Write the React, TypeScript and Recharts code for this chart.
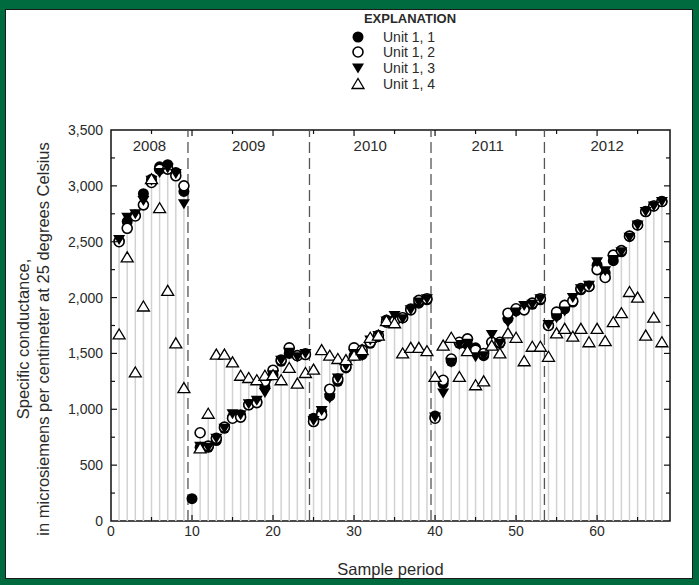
import React from "react";
import {
  ComposedChart,
  Scatter,
  XAxis,
  YAxis,
  ReferenceLine,
  ReferenceArea,
  Legend,
} from "recharts";

// sample periods 1..68
const samplePeriods = [
  1, 2, 3, 4, 5, 6, 7, 8, 9, 10, 11, 12, 13, 14, 15, 16, 17, 18, 19, 20,
  21, 22, 23, 24, 25, 26, 27, 28, 29, 30, 31, 32, 33, 34, 35, 36, 37, 38, 39, 40,
  41, 42, 43, 44, 45, 46, 47, 48, 49, 50, 51, 52, 53, 54, 55, 56, 57, 58, 59, 60,
  61, 62, 63, 64, 65, 66, 67, 68,
];

// specific conductance, microsiemens per cm at 25 C
const unit11 = [
  2510, 2680, 2740, 2930, 3060, 3170, 3190, 3120, 2950, 200,
  660, 660, 720, 830, 930, 950, 1040, 1070, 1200, 1310,
  1430, 1500, 1480, 1500, 920, 980, 1120, 1250, 1370, 1480,
  1490, 1590, 1650, 1800, 1800, 1820, 1900, 1950, 1980, 940,
  1230, 1430, 1590, 1580, 1550, 1480, 1600, 1590, 1810, 1880,
  1900, 1940, 1980, 1750, 1840, 1900, 1960, 2070, 2100, 2290,
  2220, 2330, 2410, 2550, 2650, 2770, 2820, 2860,
];
const unit12 = [
  2500, 2620, 2730, 2830, 3030, 3150, 3150, 3090, 3000, null,
  790, 670, 740, 840, 920, 930, 1040, 1060, 1250, 1350,
  1440, 1550, 1480, 1490, 890, 950, 1180, 1270, 1380, 1550,
  1530, 1600, 1660, 1780, 1790, 1820, 1890, 1975, 1990, 920,
  1260, 1450, 1600, 1630, 1530, 1500, 1600, 1600, 1860, 1900,
  1890, 1950, 1990, 1750, 1870, 1930, 1970, 2080, 2100, 2250,
  2180, 2380, 2420, 2550, 2650, 2770, 2820, 2860,
];
const unit13 = [
  2520, 2720, 2750, 2870, 3050, 3120, 3160, 3110, 2840, null,
  670, 660, 740, 830, 960, 950, 1050, 1080, 1150, 1310,
  1440, 1510, 1470, 1500, 900, 990, 1100, 1280, 1390, 1500,
  1480, 1620, 1660, 1790, 1840, 1810, 1890, 1960, 1990, 930,
  1145, 1420, 1580, 1590, 1470, 1480, 1670, 1590, 1780, 1870,
  1930, 1940, 1990, 1760, 1820, 1880, 2000, 2080, 2110, 2320,
  2240, 2340, 2410, 2540, 2650, 2770, 2820, 2860,
];
const unit14 = [
  1670, 2360, 1330, 1920, 3060, 2800, 2060, 1590, 1190, null,
  650, 960, 1490, 1490, 1420, 1300, 1280, 1260, 1300, 1305,
  1260, 1370, 1230, 1325, 1355, 1530, 1480, 1450, 1440, 1480,
  1530, 1640, 1660, 1790, 1770, 1500, 1550, 1550, 1520, 1290,
  1570, 1640, 1290, 1520, 1215, 1250, 1570, 1500, 1680, 1640,
  1430, 1560, 1560, 1470, 1680, 1720, 1650, 1720, 1600, 1720,
  1610, 1780, 1860, 2050, 2000, 1660, 1820, 1600,
];

const yearLabels = ["2008", "2009", "2010", "2011", "2012"];
const yearCenters = [4.75, 17, 32, 46.5, 61.25];
const yearBreaks = [9.5, 24.5, 39.5, 53.5];
const yearLabelLevel = 3365;

const xTicks = [0, 5, 10, 15, 20, 25, 30, 35, 40, 45, 50, 55, 60, 65];
const yTicks = [
  0, 250, 500, 750, 1000, 1250, 1500, 1750, 2000, 2250, 2500, 2750, 3000, 3250, 3500,
];

const FONT = "'Liberation Sans', Arial, sans-serif";
const TEXT = "#2a2a2a";
const PLOT = { left: 111, top: 130, right: 670, bottom: 521 };

const toPoints = (values) =>
  samplePeriods
    .map((x, i) => ({ x, y: values[i] }))
    .filter((p) => p.y != null);

const stemData = samplePeriods.map((x, i) => ({
  x,
  y: Math.max(
    ...[unit11[i], unit12[i], unit13[i], unit14[i]].filter((v) => v != null)
  ),
}));

const yearData = yearCenters.map((x, i) => ({
  x,
  y: yearLabelLevel,
  label: yearLabels[i],
}));

// markers
function marker(name, cx, cy) {
  if (name === "Unit 1, 1")
    return <circle cx={cx} cy={cy} r={5.5} fill="#000" />;
  if (name === "Unit 1, 2")
    return (
      <circle cx={cx} cy={cy} r={5} fill="#fff" stroke="#000" strokeWidth={1.6} />
    );
  if (name === "Unit 1, 3")
    return (
      <path
        d={`M${cx - 6},${cy - 4.5} L${cx + 6},${cy - 4.5} L${cx},${cy + 5.5} Z`}
        fill="#000"
      />
    );
  return (
    <path
      d={`M${cx - 6},${cy + 4.5} L${cx + 6},${cy + 4.5} L${cx},${cy - 5.5} Z`}
      fill="#fff"
      stroke="#000"
      strokeWidth={1.3}
    />
  );
}

const shapeFor = (name) => (p) => marker(name, p.cx, p.cy);

const StemShape = (p) => (
  <line
    x1={p.cx}
    x2={p.cx}
    y1={p.cy}
    y2={PLOT.bottom}
    stroke="#d2d2d2"
    strokeWidth={1.5}
  />
);

const YearShape = (p) => (
  <text
    x={p.cx}
    y={p.cy}
    textAnchor="middle"
    dominantBaseline="central"
    fontFamily={FONT}
    fontSize={15}
    fill={TEXT}
  >
    {p.payload.label}
  </text>
);

const XTick = (props) => {
  const { x, y, payload } = props;
  const v = payload.value;
  const major = v % 10 === 0;
  const len = major ? 6 : 4;
  return (
    <g>
      {v > 0 && (
        <>
          <line x1={x} x2={x} y1={PLOT.bottom} y2={PLOT.bottom - len} stroke="#111" strokeWidth={1.2} />
          <line x1={x} x2={x} y1={PLOT.top} y2={PLOT.top + len} stroke="#111" strokeWidth={1.2} />
        </>
      )}
      {major && (
        <text x={x} y={y} dy="0.71em" textAnchor="middle" fontFamily={FONT} fontSize={14} fill={TEXT}>
          {v}
        </text>
      )}
    </g>
  );
};

const YTick = (props) => {
  const { x, y, payload } = props;
  const v = payload.value;
  const major = v % 500 === 0;
  const len = major ? 6 : 4;
  return (
    <g>
      {v > 0 && v < 3500 && (
        <>
          <line x1={PLOT.left} x2={PLOT.left + len} y1={y} y2={y} stroke="#111" strokeWidth={1.2} />
          <line x1={PLOT.right} x2={PLOT.right - len} y1={y} y2={y} stroke="#111" strokeWidth={1.2} />
        </>
      )}
      {major && (
        <text x={x} y={y} dy="0.355em" textAnchor="end" fontFamily={FONT} fontSize={14} fill={TEXT}>
          {v.toLocaleString("en-US")}
        </text>
      )}
    </g>
  );
};

const YLabel = () => (
  <g fontFamily={FONT} fontSize={16.5} fill={TEXT}>
    <text x={23} y={339} textAnchor="middle" dominantBaseline="central" transform="rotate(-90 23 339)">
      Specific conductance,
    </text>
    <text x={43} y={339} textAnchor="middle" dominantBaseline="central" transform="rotate(-90 43 339)">
      in microsiemens per centimeter at 25 degrees Celsius
    </text>
  </g>
);

const renderLegend = (props) => {
  const items = (props.payload || []).filter((e) => e.type !== "none");
  return (
    <div style={{ fontFamily: FONT, color: TEXT }}>
      <div style={{ fontWeight: "bold", fontSize: 13, lineHeight: "20px", textAlign: "center" }}>
        EXPLANATION
      </div>
      {items.map((e) => (
        <div key={e.value} style={{ display: "flex", alignItems: "center", height: 15.6 }}>
          <svg width={36} height={14} style={{ display: "block" }}>
            {marker(e.value, 18, 7)}
          </svg>
          <span style={{ marginLeft: 7, fontSize: 14 }}>{e.value}</span>
        </div>
      ))}
    </div>
  );
};

export default function App() {
  return (
    <div style={{ position: "fixed", left: 0, top: 0, width: 699, height: 585, background: "#006b3e" }}>
      <div
        style={{
          position: "absolute",
          left: 5,
          top: 9,
          width: 686,
          height: 568,
          background: "#fff",
          border: "1px solid #1a1a1a",
        }}
      />
      <div style={{ position: "absolute", left: 0, top: 0 }}>
        <ComposedChart
          width={699}
          height={585}
          margin={{ top: 130, right: 29, bottom: 34, left: 61 }}
        >
          <XAxis
            type="number"
            dataKey="x"
            domain={[0, 69]}
            ticks={xTicks}
            interval={0}
            axisLine={false}
            tickLine={false}
            tickSize={0}
            tickMargin={5}
            height={30}
            tick={<XTick />}
            allowDataOverflow
          />
          <YAxis
            type="number"
            dataKey="y"
            domain={[0, 3500]}
            ticks={yTicks}
            interval={0}
            axisLine={false}
            tickLine={false}
            tickSize={0}
            tickMargin={8}
            width={50}
            tick={<YTick />}
            label={{ content: <YLabel /> }}
            allowDataOverflow
          />
          <Scatter
            name="stems"
            data={stemData}
            shape={StemShape}
            legendType="none"
            isAnimationActive={false}
          />
          {yearBreaks.map((b) => (
            <ReferenceLine
              key={b}
              x={b}
              stroke="#555"
              strokeWidth={1.3}
              strokeDasharray="11 5"
            />
          ))}
          <ReferenceArea
            x1={0}
            x2={69}
            y1={0}
            y2={3500}
            fill="none"
            fillOpacity={0}
            stroke="#111"
            strokeWidth={1.5}
          />
          <Scatter
            name="years"
            data={yearData}
            shape={YearShape}
            legendType="none"
            isAnimationActive={false}
          />
          <Scatter name="Unit 1, 1" data={toPoints(unit11)} shape={shapeFor("Unit 1, 1")} isAnimationActive={false} />
          <Scatter name="Unit 1, 2" data={toPoints(unit12)} shape={shapeFor("Unit 1, 2")} isAnimationActive={false} />
          <Scatter name="Unit 1, 3" data={toPoints(unit13)} shape={shapeFor("Unit 1, 3")} isAnimationActive={false} />
          <Scatter name="Unit 1, 4" data={toPoints(unit14)} shape={shapeFor("Unit 1, 4")} isAnimationActive={false} />
          <Legend
            layout="vertical"
            align="center"
            verticalAlign="middle"
            content={renderLegend}
            wrapperStyle={{ position: "absolute", left: 340, top: 9, width: 140 }}
          />
        </ComposedChart>
      </div>
      <div
        style={{
          position: "absolute",
          left: PLOT.left,
          width: PLOT.right - PLOT.left,
          top: 560,
          textAlign: "center",
          fontFamily: FONT,
          fontSize: 16.5,
          color: TEXT,
        }}
      >
        Sample period
      </div>
    </div>
  );
}
